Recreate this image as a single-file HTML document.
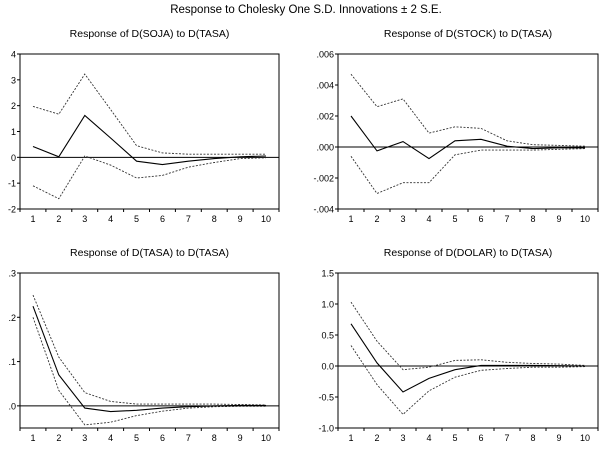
<!DOCTYPE html>
<html><head><meta charset="utf-8"><style>
body{margin:0;background:#fff;}
svg{display:block;font-family:"Liberation Sans",sans-serif;}
</style></head><body>
<svg id="c" width="613" height="454">
<text x="306" y="13" font-size="11.5" text-anchor="middle">Response to Cholesky One S.D. Innovations ± 2 S.E.</text>
</svg>
<script>
const periods = [1,2,3,4,5,6,7,8,9,10];
const sojaMid = [0.42,0.02,1.62,0.75,-0.15,-0.28,-0.15,-0.05,0.02,0.05];
const sojaUp = [1.97,1.67,3.22,1.85,0.45,0.17,0.12,0.12,0.12,0.12];
const sojaLo = [-1.1,-1.6,0.05,-0.3,-0.8,-0.7,-0.38,-0.2,-0.05,-0.02];
const sojaTicks = [-2,-1,0,1,2,3,4];
const sojaTickLabels = ["-2","-1","0","1","2","3","4"];
const stockMid = [0.002,-0.00025,0.00035,-0.00075,0.0004,0.0005,0.00005,-0.0001,-0.00005,-0.00005];
const stockUp = [0.0047,0.0026,0.0031,0.0009,0.0013,0.0012,0.0004,0.00015,0.0001,0.00005];
const stockLo = [-0.0006,-0.003,-0.0023,-0.0023,-0.0005,-0.0002,-0.0002,-0.0002,-0.00015,-0.0001];
const stockTicks = [-0.004,-0.002,0,0.002,0.004,0.006];
const stockTickLabels = ["-.004","-.002",".000",".002",".004",".006"];
const tasaMid = [0.225,0.07,-0.005,-0.013,-0.01,-0.005,-0.002,0,0.001,0.001];
const tasaUp = [0.25,0.11,0.03,0.01,0.004,0.004,0.004,0.004,0.003,0.002];
const tasaLo = [0.2,0.035,-0.043,-0.037,-0.022,-0.012,-0.005,-0.002,-0.001,-0.001];
const tasaTicks = [0,0.1,0.2,0.3];
const tasaTickLabels = [".0",".1",".2",".3"];
const dolarMid = [0.68,0.05,-0.42,-0.2,-0.06,0.01,0.01,0.01,0.005,0];
const dolarUp = [1.03,0.4,-0.06,-0.02,0.09,0.1,0.06,0.04,0.03,0.01];
const dolarLo = [0.33,-0.3,-0.78,-0.4,-0.18,-0.07,-0.04,-0.02,-0.02,-0.01];
const dolarTicks = [-1,-0.5,0,0.5,1,1.5];
const dolarTickLabels = ["-1.0","-0.5","0.0","0.5","1.0","1.5"];

const svg = document.getElementById('c');
const NS = 'http://www.w3.org/2000/svg';
function mk(tag, attrs, parent){const e=document.createElementNS(NS,tag);for(const k in attrs)e.setAttribute(k,attrs[k]);(parent||svg).appendChild(e);return e;}

function panel(name,title,x0,y0,x1,y1,ymin,ymax,ticks,labels,mid,up,lo){
  const g = mk('g',{});
  
  
  const X = i => x0 + (x1-x0)/periods.length*(i+0.5);
  const Y = v => y1 - (v-ymin)/(ymax-ymin)*(y1-y0);
  const t = mk('text',{x:(x0+x1)/2,y:y0-17,'font-size':'10.5','text-anchor':'middle'},g);
  t.textContent = title;
  
  
  const box = mk('rect',{x:x0,y:y0,width:x1-x0,height:y1-y0,fill:'none',stroke:'#000','stroke-width':1},g);
  
  
  ticks.forEach((v,i)=>{
    mk('line',{x1:x0-3,x2:x0,y1:Y(v),y2:Y(v),stroke:'#000'},g);
    const l = mk('text',{x:x0-4,y:Y(v)+3.5,'font-size':'9','text-anchor':'end'},g);
    l.textContent = labels[i];
    
    
  });
  for(let i=0;i<=periods.length;i++){
    const xx = x0+(x1-x0)/periods.length*i;
    mk('line',{x1:xx,x2:xx,y1:y1,y2:y1+3,stroke:'#000'},g);
  }
  periods.forEach((p,i)=>{
    const l = mk('text',{x:X(i),y:y1+13,'font-size':'9','text-anchor':'middle'},g);
    l.textContent = p;
    
    
  });
  const z = mk('line',{x1:x0,x2:x1,y1:Y(0),y2:Y(0),stroke:'#000','stroke-width':1},g);
  
  
  const pts = arr => arr.map((v,i)=>X(i).toFixed(1)+','+Y(v).toFixed(1)).join(' ');
  const u = mk('polyline',{points:pts(up),fill:'none',stroke:'#333','stroke-width':0.9,'stroke-dasharray':'2,1.5'},g);
  
  
  const lw = mk('polyline',{points:pts(lo),fill:'none',stroke:'#333','stroke-width':0.9,'stroke-dasharray':'2,1.5'},g);
  
  
  const m = mk('polyline',{points:pts(mid),fill:'none',stroke:'#000','stroke-width':1.1},g);
  
  
}
panel('panel-soja','Response of D(SOJA) to D(TASA)',20,54,279,209,-2,4,sojaTicks,sojaTickLabels,sojaMid,sojaUp,sojaLo);
panel('panel-stock','Response of D(STOCK) to D(TASA)',338,54,598,209,-0.004,0.006,stockTicks,stockTickLabels,stockMid,stockUp,stockLo);
panel('panel-tasa','Response of D(TASA) to D(TASA)',20,273,279,428,-0.05,0.3,tasaTicks,tasaTickLabels,tasaMid,tasaUp,tasaLo);
panel('panel-dolar','Response of D(DOLAR) to D(TASA)',338,273,598,428,-1,1.5,dolarTicks,dolarTickLabels,dolarMid,dolarUp,dolarLo);
</script>
</body></html>
